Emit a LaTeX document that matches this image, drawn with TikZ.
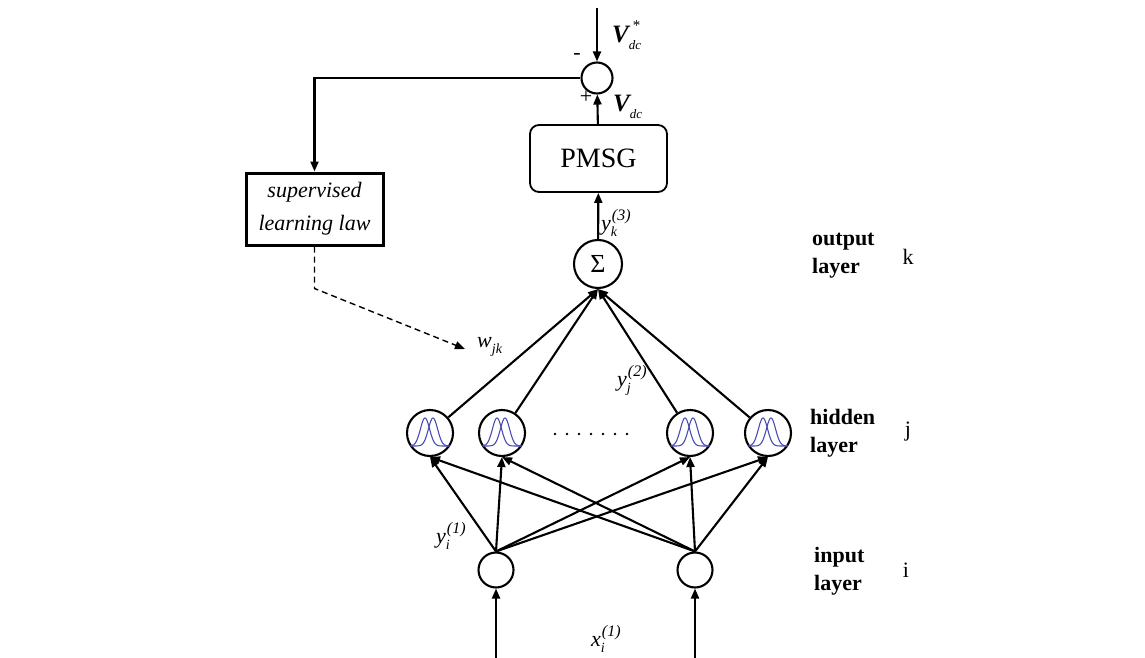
\documentclass[tikz,border=0pt]{standalone}
\usepackage{fontspec}
\setmainfont{Liberation Serif}
\usetikzlibrary{arrows.meta,calc}

% base letter with a superscript and a subscript stacked after it
\newcommand{\supsub}[3]{#1\rlap{\kern1pt\raisebox{10pt}{\fontsize{16}{16}\selectfont #2}}\raisebox{-6pt}{\fontsize{14}{14}\selectfont #3}}
% bold italic V with a "dc" subscript and an optional mark above it
\newcommand{\Vlbl}[1]{{\fontsize{25}{25}\selectfont\bfseries\itshape V}\rlap{\kern4pt\raisebox{12pt}{\fontsize{15}{15}\selectfont #1}}\raisebox{-7pt}{\fontsize{13}{13}\selectfont\itshape dc}}

\definecolor{bellblue}{RGB}{75,75,180}

\tikzset{
  wire/.style={line width=2.1pt, -{Triangle[length=10pt,width=8pt]}},
  dashwire/.style={line width=1.4pt, dash pattern=on 6pt off 4pt, -{Triangle[length=10pt,width=8pt]}},
  neuron/.style={circle, draw, line width=2.1pt, inner sep=0pt},
  bell/.style={bellblue, line width=1.1pt},
  lbl/.style={inner sep=0pt, font=\fontsize{22}{22}\selectfont},
  mathlbl/.style={inner sep=0pt, anchor=base west, font=\fontsize{22}{22}\selectfont\itshape},
  layerlbl/.style={inner sep=0pt, anchor=west, align=left, font=\fontsize{22}{28}\selectfont\bfseries},
}

\begin{document}
\begin{tikzpicture}[x=1pt,y=-1pt]
\useasboundingbox (0,0) rectangle (1145,658);

% blocks of the control loop
\node[neuron, minimum size=31pt] (sum) at (597,78) {};
\node[draw, rounded corners=9pt, line width=1.8pt, minimum width=137pt, minimum height=67pt,
      font=\fontsize{28}{28}\selectfont] (pmsg) at (598.5,158.5) {PMSG};
\node[draw, line width=3pt, minimum width=137pt, minimum height=72pt, align=center,
      font=\fontsize{22}{33}\selectfont\itshape] (law) at (314.5,209) {supervised\\learning law};

% network layers
\node[neuron, minimum size=48pt, font=\fontsize{26}{26}\selectfont] (out) at (598,264) {Σ};
\foreach \n/\cx in {1/430,2/502,3/690,4/768}{
  \node[neuron, minimum size=46pt] (h\n) at (\cx,433) {};
  \draw[bell, variable=\t, domain=-19.5:19.5, samples=60]
    plot ({\cx+\t},{446-28*exp(-((\t+5)/6.5)*((\t+5)/6.5))});
  \draw[bell, variable=\t, domain=-19.5:19.5, samples=60]
    plot ({\cx+\t},{446-28*exp(-((\t-3)/6.5)*((\t-3)/6.5))});
}
\node[neuron, minimum size=35pt] (i1) at (496,570) {};
\node[neuron, minimum size=35pt] (i2) at (695,570) {};

% dots between hidden neurons
\foreach \d in {0,...,6} \fill (555+12*\d,434) circle (1.3pt);

% loop connections
\coordinate (vref) at (597,8);
\draw[wire] (vref) -- (sum);
\draw[wire] (pmsg) -- (sum);
\draw[wire] (out) -- (pmsg);
\draw[wire] (sum.west) -| (law.north);
\coordinate (wtip) at (465,349);
\draw[dashwire] (law.south) -- ++(0,42) -- (wtip);

% network connections
\foreach \n in {1,...,4} \draw[wire] (h\n) -- (out.south);
\foreach \i in {1,2}
  \foreach \n in {1,...,4} \draw[wire] (i\i.north) -- (h\n.south);
\coordinate (x1) at (496,658);
\coordinate (x2) at (695,658);
\draw[wire] (x1) -- (i1);
\draw[wire] (x2) -- (i2);

% signs and signal labels
\node[lbl] (minus) at (577,56) {-};
\node[lbl] (plus) at (586,97) {+};
\node[inner sep=0pt, anchor=base west] (vstar) at (612,43) {\Vlbl{*}};
\node[inner sep=0pt, anchor=base west] (vdc) at (613,112) {\Vlbl{}};
\node[mathlbl] (yk) at (601,230) {\supsub{y}{(3)}{k}};
\node[mathlbl] (wjk) at (477,347) {\supsub{w}{}{jk}};
\node[mathlbl] (yj) at (617,386) {\supsub{y}{(2)}{j}};
\node[mathlbl] (yi) at (436,543) {\supsub{y}{(1)}{i}};
\node[mathlbl] (xi) at (591,646) {\supsub{x}{(1)}{i}};

% layer names and indices
\node[layerlbl] (lo) at (812,256) {output\\layer};
\node[layerlbl] (lh) at (810,433) {hidden\\layer};
\node[layerlbl] (li) at (814,571) {input\\layer};
\node[lbl] (k) at (908,257) {k};
\node[lbl] (j) at (908,432) {j};
\node[lbl] (i) at (906,570) {i};
\end{tikzpicture}
\end{document}
